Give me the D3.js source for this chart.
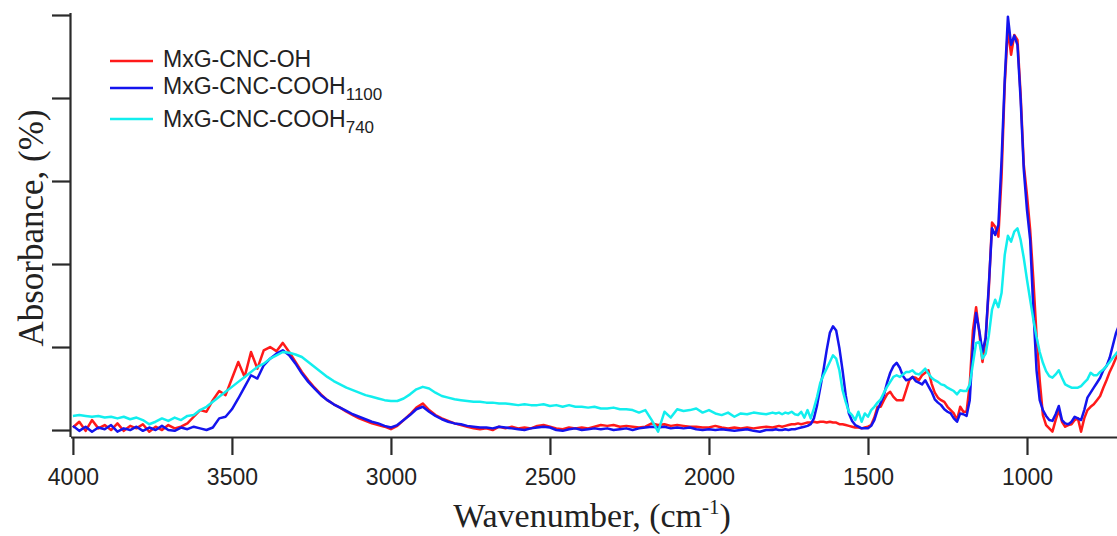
<!DOCTYPE html>
<html><head><meta charset="utf-8">
<script src="https://cdn.jsdelivr.net/npm/d3@7"></script>
<style>body{margin:0;background:#fff;overflow:hidden}</style>
</head><body>
<svg id="chart" width="1117" height="536"></svg>
<script>
// ---- data ----
const seriesNames = ["MxG-CNC-OH", "MxG-CNC-COOH", "MxG-CNC-COOH"];
const seriesSubs = ["", "1100", "740"];
const seriesColors = ["#ff1a1a", "#1414ee", "#12eeee"];
const xTicks = [4000, 3500, 3000, 2500, 2000, 1500, 1000];
const yTicks = [0, 1, 2, 3, 4, 5];
// sampling grid (cm-1): 4000..1800 every 20, 1790..710 every 10
const wavenumbers = d3.range(4000, 1799, -20).concat(d3.range(1790, 709, -10));

const red = [
 0.03,0.10,-0.01,0.12,0.02,0.06,0.00,0.08,-0.01,0.05,
 0.02,0.07,-0.02,0.04,0.00,0.06,0.02,0.04,0.08,0.16,
 0.24,0.22,0.36,0.47,0.42,0.62,0.82,0.64,0.94,0.74,
 0.96,1.00,0.95,1.05,0.94,0.82,0.70,0.60,0.51,0.43,
 0.36,0.31,0.27,0.22,0.18,0.14,0.11,0.08,0.06,0.04,
 0.01,0.05,0.12,0.19,0.27,0.32,0.24,0.18,0.14,0.11,
 0.08,0.06,0.04,0.02,0.01,0.02,0.00,0.04,0.02,0.04,
 0.02,0.03,0.02,0.05,0.06,0.04,0.02,0.01,0.03,0.02,
 0.03,0.02,0.04,0.06,0.05,0.06,0.04,0.05,0.04,0.03,
 0.04,0.08,0.06,0.07,0.05,0.06,0.05,0.04,0.04,0.03,
 0.03,0.05,0.03,0.02,0.03,0.02,0.03,0.02,0.03,0.04,
 0.03,
 0.04,0.05,0.04,0.05,0.06,0.07,0.07,0.08,0.07,0.08,
 0.09,0.09,0.10,0.09,0.10,0.10,0.09,0.10,0.09,0.09,
 0.07,0.07,0.06,0.05,0.04,0.03,0.03,0.02,0.03,0.04,
 0.06,0.15,0.28,0.28,0.36,0.43,0.46,0.40,0.36,0.36,
 0.36,0.48,0.60,0.64,0.63,0.60,0.66,0.69,0.72,0.56,
 0.45,0.39,0.36,0.34,0.28,0.24,0.20,0.12,0.28,0.22,
 0.22,0.55,1.20,1.48,1.17,0.82,1.10,1.70,2.50,2.45,
 2.33,3.05,4.16,4.84,4.52,4.76,4.70,4.04,3.19,2.83,
 2.41,1.81,1.14,0.60,0.18,0.06,0.02,-0.02,0.12,0.24,
 0.10,0.04,0.06,0.07,0.12,0.14,-0.02,0.14,0.24,0.28,
 0.31,0.36,0.41,0.51,0.60,0.70,0.78,0.87,0.94
];
const blue = [
 0.05,-0.01,0.04,-0.02,0.03,0.01,0.06,-0.02,0.02,0.00,
 0.04,-0.01,0.03,0.00,0.05,0.00,-0.01,0.03,0.01,0.04,
 0.02,0.00,0.03,0.14,0.16,0.25,0.38,0.52,0.66,0.62,
 0.78,0.86,0.92,0.96,0.90,0.80,0.68,0.58,0.50,0.42,
 0.36,0.31,0.27,0.23,0.19,0.16,0.13,0.10,0.08,0.05,
 0.03,0.06,0.12,0.18,0.25,0.28,0.22,0.17,0.13,0.10,
 0.08,0.07,0.05,0.04,0.03,0.03,0.02,0.04,0.03,0.02,
 0.01,0.00,0.02,0.03,0.04,0.03,0.00,-0.01,0.01,0.02,
 0.00,0.01,0.02,0.01,0.02,0.00,0.01,0.02,0.00,0.02,
 0.03,0.04,0.03,0.04,0.02,0.03,0.02,0.03,0.01,0.00,
 0.01,0.00,0.01,0.00,-0.01,0.00,0.01,-0.01,-0.02,0.00,
 0.00,
 0.01,0.00,0.00,0.01,0.00,0.01,0.01,0.02,0.03,0.04,
 0.05,0.07,0.14,0.30,0.51,0.72,0.96,1.17,1.25,1.20,
 0.99,0.72,0.42,0.20,0.11,0.06,0.04,0.02,0.02,0.02,
 0.05,0.12,0.24,0.33,0.42,0.57,0.69,0.77,0.81,0.75,
 0.65,0.60,0.61,0.64,0.59,0.57,0.55,0.60,0.53,0.46,
 0.37,0.33,0.30,0.25,0.22,0.20,0.14,0.10,0.20,0.19,
 0.17,0.36,1.02,1.41,1.20,0.94,1.11,1.75,2.43,2.35,
 2.47,3.25,4.22,4.98,4.64,4.75,4.64,3.98,3.13,2.65,
 2.29,1.45,0.72,0.36,0.24,0.17,0.12,0.11,0.19,0.29,
 0.12,0.08,0.07,0.10,0.16,0.14,0.12,0.24,0.39,0.45,
 0.51,0.57,0.63,0.72,0.77,0.87,1.02,1.17,1.27
];
const cyan = [
 0.17,0.18,0.17,0.16,0.17,0.15,0.16,0.14,0.16,0.13,
 0.15,0.12,0.07,0.10,0.14,0.11,0.15,0.12,0.17,0.18,
 0.24,0.28,0.34,0.40,0.46,0.52,0.58,0.64,0.70,0.76,
 0.80,0.86,0.90,0.94,0.93,0.91,0.88,0.82,0.76,0.70,
 0.64,0.59,0.55,0.51,0.48,0.45,0.42,0.40,0.38,0.36,
 0.35,0.35,0.38,0.43,0.49,0.52,0.50,0.45,0.41,0.39,
 0.37,0.36,0.35,0.34,0.34,0.33,0.33,0.32,0.32,0.31,
 0.30,0.31,0.30,0.30,0.31,0.29,0.30,0.28,0.30,0.28,
 0.28,0.27,0.28,0.26,0.26,0.27,0.25,0.25,0.24,0.21,
 0.24,0.12,-0.02,0.22,0.15,0.25,0.23,0.24,0.26,0.21,
 0.24,0.20,0.18,0.21,0.16,0.20,0.19,0.21,0.20,0.19,
 0.21,
 0.20,0.21,0.19,0.21,0.20,0.22,0.19,0.18,0.22,0.15,
 0.24,0.14,0.26,0.40,0.57,0.66,0.74,0.82,0.90,0.86,
 0.72,0.48,0.34,0.22,0.18,0.12,0.22,0.10,0.20,0.16,
 0.24,0.28,0.33,0.37,0.45,0.52,0.58,0.64,0.66,0.64,
 0.67,0.70,0.70,0.72,0.68,0.67,0.70,0.74,0.68,0.63,
 0.60,0.58,0.55,0.54,0.51,0.49,0.47,0.43,0.48,0.47,
 0.47,0.55,0.80,1.05,1.06,0.86,0.92,1.14,1.45,1.57,
 1.48,1.65,2.11,2.34,2.27,2.39,2.43,2.29,2.07,1.81,
 1.57,1.33,1.12,0.94,0.81,0.71,0.65,0.63,0.67,0.72,
 0.63,0.55,0.53,0.51,0.51,0.51,0.53,0.57,0.61,0.69,
 0.66,0.66,0.70,0.73,0.77,0.82,0.87,0.92,0.96
];
const seriesValues = [red, blue, cyan];

// ---- chart ----
const svg = d3.select("#chart");
const plotLeft = 71, plotRight = 1117, plotTop = 13, plotBottom = 437;
const x = d3.scaleLinear().domain([4006, 717]).range([plotLeft, plotRight]);
const y = d3.scaleLinear().domain([-0.084, 5.024]).range([plotBottom, plotTop]);
const axisColor = "#2a2a2a";

svg.append("defs").append("clipPath").attr("id", "plot")
  .append("rect").attr("x", plotLeft).attr("y", 0).attr("width", plotRight - plotLeft).attr("height", plotBottom);

const line = d3.line().x(d => x(d[0])).y(d => y(d[1]));
const g = svg.append("g").attr("clip-path", "url(#plot)");
seriesValues.forEach((vals, i) => {
  const pts = wavenumbers.map((w, k) => [w, vals[k]]);
  g.append("path").datum(pts)
    .attr("d", line).attr("fill", "none")
    .attr("stroke", seriesColors[i]).attr("stroke-width", 2.5)
    .attr("stroke-linejoin", "round");
});

// x axis
const xAxis = d3.axisBottom(x).tickValues(xTicks).tickSize(18).tickPadding(14).tickFormat(d3.format("d"));
const gx = svg.append("g").attr("transform", `translate(0,${plotBottom})`).call(xAxis);
gx.select(".domain").attr("d", `M${plotLeft},0.5H${plotRight}`).attr("stroke", axisColor).attr("stroke-width", 2.2);
gx.selectAll(".tick line").attr("stroke", axisColor).attr("stroke-width", 2.2);
gx.selectAll(".tick text").attr("fill", "#222").style("font-family", "Arial, 'Liberation Sans', sans-serif").style("font-size", "23px");

// y axis
const yAxis = d3.axisLeft(y).tickValues(yTicks).tickSize(19).tickFormat("");
const gy = svg.append("g").attr("transform", `translate(${plotLeft},0)`).call(yAxis);
gy.select(".domain").attr("d", `M-0.5,${plotTop}V${plotBottom}`).attr("stroke", axisColor).attr("stroke-width", 2.2);
gy.selectAll(".tick line").attr("stroke", axisColor).attr("stroke-width", 2.2);

// axis titles
const xt = svg.append("text").attr("x", 592).attr("y", 527).attr("text-anchor", "middle")
  .style("font-family", "'Liberation Serif', 'Times New Roman', serif").style("font-size", "34px").attr("fill", "#222");
xt.append("tspan").text("Wavenumber, (cm");
xt.append("tspan").text("-1").attr("dy", -13).style("font-size", "21px");
xt.append("tspan").text(")").attr("dy", 13);

svg.append("text").attr("transform", "translate(43,228) rotate(-90)").attr("text-anchor", "middle")
  .style("font-family", "'Liberation Serif', 'Times New Roman', serif").style("font-size", "35px").attr("fill", "#222")
  .text("Absorbance, (%)");

// legend
const legY = [61, 88, 119];
const legBase = [67, 94, 127];
seriesNames.forEach((name, i) => {
  svg.append("line").attr("x1", 110).attr("x2", 153).attr("y1", legY[i]).attr("y2", legY[i])
    .attr("stroke", seriesColors[i]).attr("stroke-width", 2.6);
  const t = svg.append("text").attr("x", 163).attr("y", legBase[i])
    .style("font-family", "Arial, 'Liberation Sans', sans-serif").style("font-size", "23px").attr("fill", "#222");
  t.append("tspan").text(name);
  if (seriesSubs[i]) t.append("tspan").text(seriesSubs[i]).attr("dy", 6).style("font-size", "17px");
});
</script>
</body></html>
